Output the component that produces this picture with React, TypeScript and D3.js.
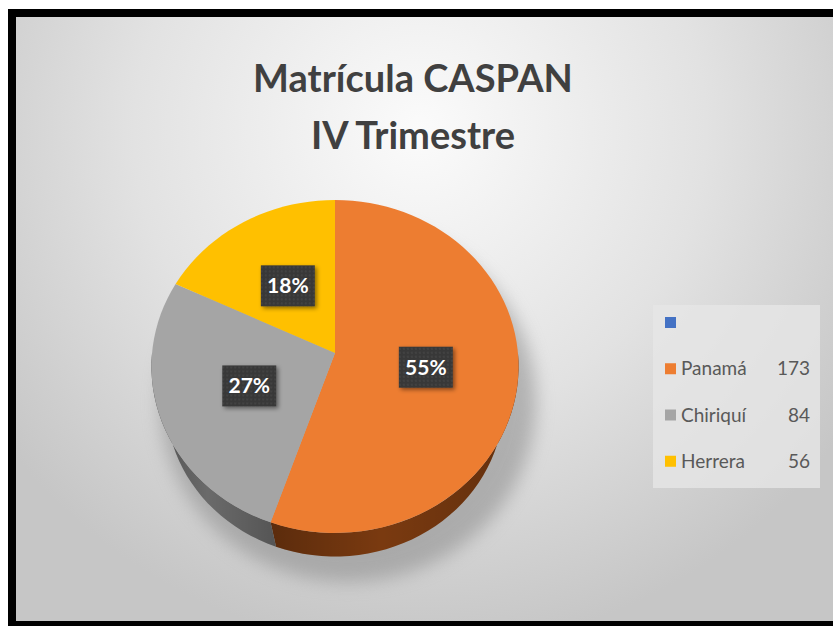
import React from "react";
import * as d3 from "d3";

const titleLines = ["Matrícula CASPAN", "IV Trimestre"];
const categories = ["Panamá", "Chiriquí", "Herrera"];
const values = [173, 84, 56];
const colors = ["#ED7D31", "#A5A5A5", "#FFC000"];
const sideColors = ["#7a3a10", "#6a6a6a", "#8a6a00"];
const legendBlankColor = "#4472C4";

const W = 833;
const H = 626;

// projection parameters (perspective 3D pie)
const CX = 335;
const CY = 353;
const F = 966;
const DIST = 5.28;
const SIN_A = 0.904;
const COS_A = 0.427;
const THICK = 0.5;

function proj(X: number, Y: number, Z: number): [number, number] {
  const w = Y * SIN_A + Z * COS_A;
  const d = DIST + Y * COS_A - Z * SIN_A;
  return [CX + (F * X) / d, CY - (F * w) / d];
}
function rim(theta: number, r: number, z: number): [number, number] {
  return proj(r * Math.sin(theta), r * Math.cos(theta), z);
}

export default function App() {
  const total = d3.sum(values);
  const arcs = d3.pie<number>().sort(null)(values);
  const N = 120;

  const topPath = (a0: number, a1: number) => {
    const pts: [number, number][] = [proj(0, 0, 0)];
    const n = Math.max(2, Math.ceil(((a1 - a0) / (2 * Math.PI)) * N));
    for (let i = 0; i <= n; i++) pts.push(rim(a0 + ((a1 - a0) * i) / n, 1, 0));
    return d3.line()(pts) + "Z";
  };
  const sidePath = (a0: number, a1: number) => {
    const s = Math.max(a0, Math.PI / 2);
    const e = Math.min(a1, (3 * Math.PI) / 2);
    if (e <= s) return null;
    const n = Math.max(2, Math.ceil(((e - s) / (2 * Math.PI)) * N));
    const pts: [number, number][] = [];
    for (let i = 0; i <= n; i++) pts.push(rim(s + ((e - s) * i) / n, 1, 0));
    for (let i = n; i >= 0; i--) pts.push(rim(s + ((e - s) * i) / n, 1, -THICK));
    return d3.line()(pts) + "Z";
  };

  const fmt = d3.format(".0%");
  const legendY = d3.scaleBand<string>().domain(["", ...categories]).range([305, 490]).paddingInner(0);

  return (
    <svg width={W} height={H} style={{ position: "absolute", left: 0, top: 0 }}>
      <defs>
        <radialGradient id="bg" cx="420" cy="130" r="520" gradientUnits="userSpaceOnUse">
          <stop offset="0" stopColor="#fbfbfb" />
          <stop offset="0.55" stopColor="#e2e2e2" />
          <stop offset="1" stopColor="#c6c6c6" />
        </radialGradient>
        <linearGradient id="sideShade" x1="0" x2="1" y1="0" y2="0">
          <stop offset="0" stopColor="#000" stopOpacity="0.25" />
          <stop offset="0.45" stopColor="#000" stopOpacity="0" />
          <stop offset="1" stopColor="#000" stopOpacity="0.2" />
        </linearGradient>
        <filter id="blur" x="-30%" y="-30%" width="160%" height="160%">
          <feGaussianBlur stdDeviation="9" />
        </filter>
        <filter id="lblShadow" x="-30%" y="-30%" width="160%" height="160%">
          <feDropShadow dx="2" dy="2" stdDeviation="2" floodColor="#000" floodOpacity="0.45" />
        </filter>
        <pattern id="dots" width="4" height="4" patternUnits="userSpaceOnUse">
          <rect width="4" height="4" fill="#383838" />
          <circle cx="2" cy="2" r="0.7" fill="#555" />
        </pattern>
      </defs>
      <rect x={8} y={9} width={W} height={H} fill="#000" />
      <rect x={16} y={17} width={W} height={604} fill="url(#bg)" />

      {titleLines.map((t, i) => (
        <text
          key={t}
          x={413}
          y={92 + i * 57}
          textAnchor="middle"
          fontFamily="Lato, 'Open Sans', sans-serif"
          fontWeight={700}
          fontSize={38}
          fill="#404040"
        >
          {t}
        </text>
      ))}

      {/* shadow */}
      <ellipse cx={348} cy={402} rx={188} ry={180} fill="#8a8a8a" opacity={0.55} filter="url(#blur)" />

      {/* side walls */}
      {arcs.map((a, i) => {
        const p = sidePath(a.startAngle, a.endAngle);
        if (!p) return null;
        return (
          <g key={"s" + i}>
            <path d={p} fill={sideColors[i]} />
            <path d={p} fill="url(#sideShade)" />
          </g>
        );
      })}

      {/* top faces */}
      {arcs.map((a, i) => (
        <path key={"t" + i} d={topPath(a.startAngle, a.endAngle)} fill={colors[i]} />
      ))}

      {/* labels */}
      {arcs.map((a, i) => {
        const mid = (a.startAngle + a.endAngle) / 2;
        const [x, y] = rim(mid, 0.5, 0);
        return (
          <g key={"l" + i} transform={`translate(${x},${y})`}>
            <rect x={-27} y={-20} width={54} height={41} fill="url(#dots)" filter="url(#lblShadow)" />
            <text
              x={0}
              y={8}
              textAnchor="middle"
              fontFamily="Lato, 'Open Sans', sans-serif"
              fontWeight={700}
              fontSize={21}
              fill="#fff"
            >
              {fmt(values[i] / total)}
            </text>
          </g>
        );
      })}

      {/* legend */}
      <rect x={653} y={305} width={167} height={183} fill="#e6e6e6" opacity={0.8} />
      {["", ...categories].map((c, i) => {
        const y0 = (legendY(c) as number) + 12;
        const col = i === 0 ? legendBlankColor : colors[i - 1];
        return (
          <g key={"lg" + i}>
            <rect x={665} y={y0} width={11} height={11} fill={col} />
            {i > 0 && (
              <>
                <text x={681} y={y0 + 12} fontFamily="Lato, 'Open Sans', sans-serif" fontSize={19} fill="#595959">
                  {c}
                </text>
                <text x={810} y={y0 + 12} textAnchor="end" fontFamily="Lato, 'Open Sans', sans-serif" fontSize={19} fill="#595959">
                  {values[i - 1]}
                </text>
              </>
            )}
          </g>
        );
      })}
    </svg>
  );
}
